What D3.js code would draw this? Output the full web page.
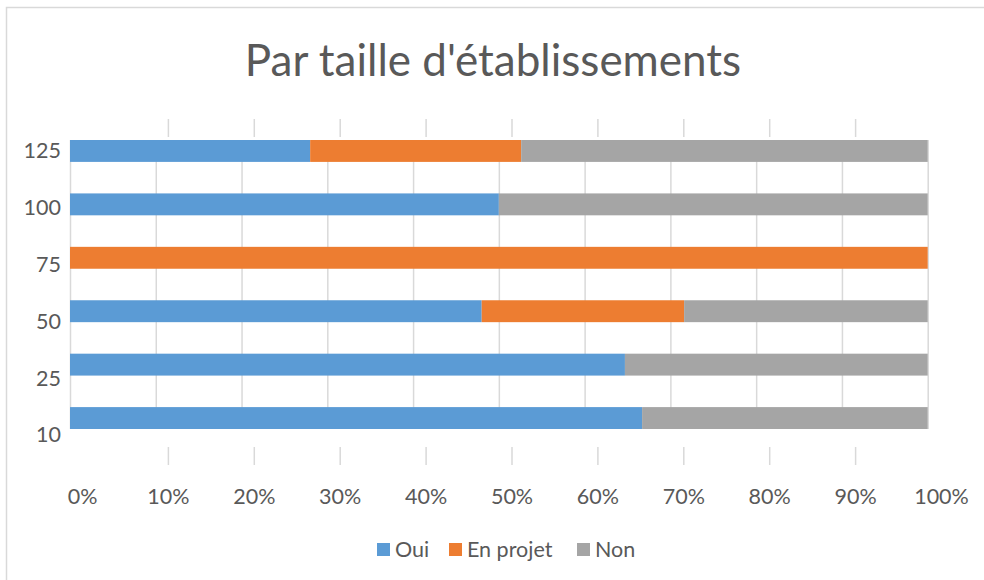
<!DOCTYPE html>
<html>
<head>
<meta charset="utf-8">
<script src="https://cdn.jsdelivr.net/npm/d3@7"></script>
<style>
  body { margin: 0; background: #fff; }
  text { font-family: Lato, "Open Sans", sans-serif; fill: #595959; }
</style>
</head>
<body>
<div id="chart"></div>
<script>
// categories listed top to bottom
const categories = ['125', '100', '75', '50', '25', '10'];
const seriesNames = ['Oui', 'En projet', 'Non'];
const oui = [28, 50, 0, 48, 64.7, 66.7];
const enProjet = [24.6, 0, 100, 23.6, 0, 0];
const non = [47.4, 50, 0, 28.4, 35.3, 33.3];
const colors = ['#5b9bd5', '#ed7d31', '#a5a5a5'];
const pctTicks = [0, 10, 20, 30, 40, 50, 60, 70, 80, 90, 100];

const width = 984, height = 580;

const svg = d3.select('#chart')
  .append('svg')
  .attr('width', width)
  .attr('height', height);

// chart frame (runs off the right and bottom edges)
svg.append('rect')
  .attr('x', 6.5).attr('y', 7.5)
  .attr('width', 1000).attr('height', 600)
  .attr('fill', 'none')
  .attr('stroke', '#d9d9d9')
  .attr('stroke-width', 1.5);

svg.append('text')
  .attr('x', 493)
  .attr('y', 76)
  .attr('text-anchor', 'middle')
  .style('font-size', '44px')
  .text("Par taille d'établissements");

const rows = categories.map((c, i) => ({
  cat: c, 'Oui': oui[i], 'En projet': enProjet[i], 'Non': non[i]
}));

const stack = d3.stack()
  .keys(seriesNames)
  .offset(d3.stackOffsetExpand);
const layers = stack(rows);

const scaleX = d3.scaleLinear()
  .domain([0, 1])
  .range([70, 927.7]);

// the labels and outer ticks sit slightly offset from the plot grid
const labelX = d3.scaleLinear()
  .domain([0, 100])
  .range([82, 941]);

const scaleY = d3.scaleBand()
  .domain(categories)
  .range([140, 429])
  .paddingInner(0.59)
  .paddingOuter(0);

const labelY = d3.scalePoint()
  .domain(categories)
  .range([151, 435]);

// grid inside plot
const grid = svg.append('g')
  .attr('transform', 'translate(0, 140)')
  .call(d3.axisBottom(d3.scaleLinear().domain([0, 100]).range(scaleX.range()))
    .tickValues(pctTicks)
    .tickFormat('')
    .tickSize(289))
  .call(g => g.select('.domain').remove());
grid.selectAll('line').attr('stroke', '#d9d9d9').attr('stroke-width', 1.5);

// short ticks above and below the plot
[[119, 18], [447, 18]].forEach(([y0, len]) => {
  const g = svg.append('g')
    .attr('transform', `translate(0, ${y0})`)
    .call(d3.axisBottom(labelX)
      .tickValues(pctTicks.slice(1, -1))
      .tickFormat('')
      .tickSize(len))
    .call(g => g.select('.domain').remove());
  g.selectAll('line').attr('stroke', '#d9d9d9').attr('stroke-width', 1.5);
});

// bars
svg.append('g')
  .selectAll('g')
  .data(layers)
  .join('g')
  .attr('fill', (d, i) => colors[i])
  .selectAll('rect')
  .data(d => d)
  .join('rect')
  .attr('x', d => scaleX(d[0]))
  .attr('y', d => scaleY(d.data.cat))
  .attr('width', d => scaleX(d[1]) - scaleX(d[0]))
  .attr('height', scaleY.bandwidth());

// x labels
const xAxis = svg.append('g')
  .attr('transform', 'translate(0, 489)')
  .call(d3.axisBottom(labelX)
    .tickValues(pctTicks)
    .tickFormat(d => d + '%')
    .tickSize(0)
    .tickPadding(0))
  .call(g => g.select('.domain').remove());
xAxis.selectAll('text')
  .attr('dy', '0.71em')
  .style('font-size', '21.5px')
  .attr('fill', '#595959');

// y labels
const yAxis = svg.append('g')
  .attr('transform', 'translate(61, 0)')
  .call(d3.axisLeft(labelY)
    .tickSize(0)
    .tickPadding(0))
  .call(g => g.select('.domain').remove());
yAxis.selectAll('text')
  .style('font-size', '21.5px')
  .attr('fill', '#595959');

// legend
const legendItems = [
  { name: 'Oui', x: 377 },
  { name: 'En projet', x: 449 },
  { name: 'Non', x: 577 }
];
const legend = svg.append('g');
legendItems.forEach((d, i) => {
  legend.append('rect')
    .attr('x', d.x).attr('y', 543)
    .attr('width', 13).attr('height', 13)
    .attr('fill', colors[i]);
  legend.append('text')
    .attr('x', d.x + 18)
    .attr('y', 549)
    .attr('dy', '0.35em')
    .style('font-size', '21.5px')
    .text(d.name);
});
</script>
</body>
</html>
